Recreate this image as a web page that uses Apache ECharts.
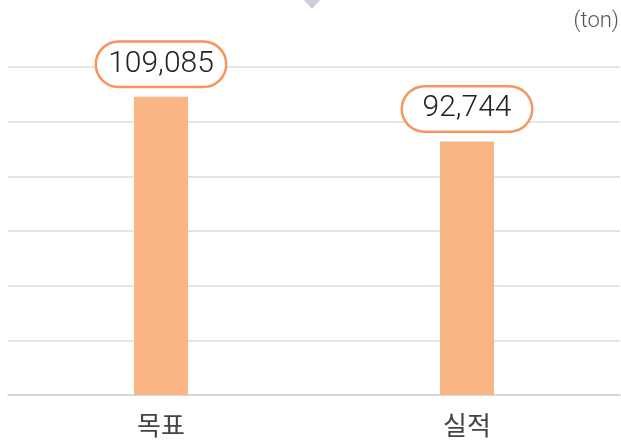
<!DOCTYPE html>
<html>
<head>
<meta charset="utf-8">
<script src="https://cdn.jsdelivr.net/npm/echarts@6/dist/echarts.min.js"></script>
<style>
  html, body { margin: 0; padding: 0; background: #fff; }
  #chart { width: 621px; height: 441px; }
</style>
</head>
<body>
<div id="chart"></div>
<script>
// data
const categories = ['목표', '실적']
const values = [109085, 92744]
const unitLabel = '(ton)'

const chart = echarts.init(document.getElementById('chart'))

const option = {
  animation: false,
  grid: { left: 8, right: 1, top: 67, bottom: 46 },
  graphic: [
    {
      type: 'polygon',
      shape: { points: [[304, 0], [320, 0], [312, 9]] },
      style: { fill: '#c9cdd5' }
    },
    {
      type: 'text',
      right: 2,
      top: 10,
      style: {
        text: unitLabel,
        font: '300 22px Roboto',
        fill: '#555'
      }
    }
  ],
  xAxis: {
    type: 'category',
    data: categories,
    axisTick: { show: false },
    axisLine: { lineStyle: { color: '#cfd2da', width: 1.5 } },
    axisLabel: {
      margin: 17,
      fontSize: 26,
      color: '#444',
      fontFamily: 'Noto Sans CJK KR'
    }
  },
  yAxis: {
    type: 'value',
    min: 0,
    max: 120000,
    interval: 20000,
    axisLabel: { show: false },
    axisLine: { show: false },
    axisTick: { show: false },
    splitLine: { lineStyle: { color: '#dcdde1', width: 1.5 } }
  },
  series: [
    {
      type: 'bar',
      data: values,
      barWidth: 54,
      itemStyle: { color: '#fab584' },
      label: {
        show: true,
        position: 'top',
        distance: 11,
        formatter: p => p.value.toLocaleString('en-US'),
        fontFamily: 'Roboto',
        fontWeight: 300,
        fontSize: 30,
        lineHeight: 31,
        color: '#222',
        width: 104,
        align: 'center',
        padding: [6, 12, 6, 12],
        backgroundColor: '#fff',
        borderColor: '#f4965e',
        borderWidth: 2.5,
        borderRadius: 22
      }
    }
  ]
}

chart.setOption(option)
</script>
</body>
</html>
